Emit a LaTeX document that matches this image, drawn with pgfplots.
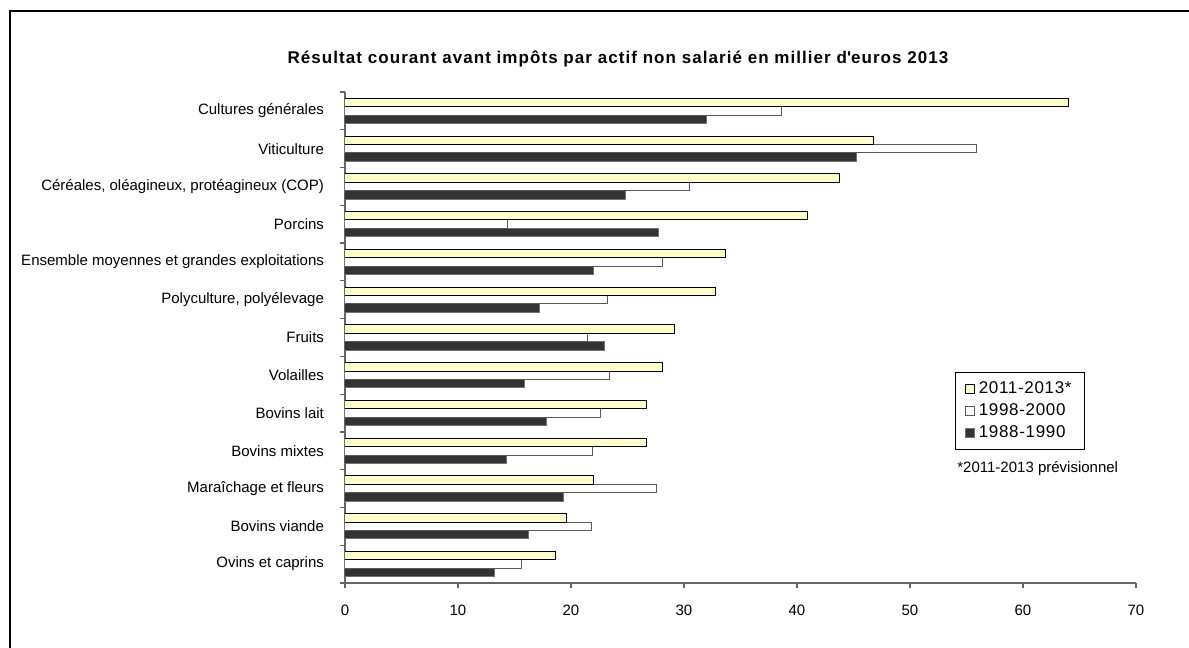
\documentclass[border=0pt]{standalone}
\usepackage{fontspec}
\setmainfont{Liberation Sans}
\usepackage{pgfplots}
\pgfplotsset{compat=1.18}
\definecolor{paleyellow}{HTML}{FFFFCC}
\definecolor{darkbar}{HTML}{333333}

\begin{document}
\begin{tikzpicture}
% page area: 1189 x 648 units of 0.5pt
\useasboundingbox (0,0) rectangle (594.5pt,324pt);
\begin{axis}[
  at={(172.5pt,32.5pt)}, anchor=south west,
  width=395.5pt, height=245.5pt, scale only axis,
  xmin=0, xmax=70, ymin=-0.5, ymax=12.5,
  xbar=0pt, bar width=4.2pt,
  axis x line*=bottom, axis y line*=left,
  x axis line style={-}, y axis line style={-},
  axis line style={black!60, line width=0.6pt},
  xtick={0,10,...,70},
  % category boundaries carry the tick marks, centres carry the names
  ytick={-0.5,0.5,...,12.5},
  yticklabels={{},{},{},{},{},{},{},{},{},{},{},{},{},{}},
  extra y ticks={0,1,...,12},
  extra y tick labels={
    {Ovins et caprins},
    {Bovins viande},
    {Maraîchage et fleurs},
    {Bovins mixtes},
    {Bovins lait},
    {Volailles},
    {Fruits},
    {Polyculture, polyélevage},
    {Ensemble moyennes et grandes exploitations},
    {Porcins},
    {Céréales, oléagineux, protéagineux (COP)},
    {Viticulture},
    {Cultures générales}},
  extra y tick style={tick style={draw=none}},
  tick align=outside,
  major tick length=2.5pt,
  tick style={black!60, line width=0.6pt},
  /pgf/number format/assume math mode=true,
  ticklabel style={font=\fontsize{7.5}{9}\selectfont},
  xticklabel style={yshift=-5pt},
  yticklabel style={xshift=-4.5pt},
  legend style={at={(0.7715,0.2709)}, anchor=south west, draw=black,
    line width=0.6pt, font=\fontsize{8.5}{10}\selectfont\addfontfeature{LetterSpace=4},
    inner xsep=4.5pt, inner ysep=2.5pt, row sep=-0.5pt, cells={anchor=west}},
  legend cell align=left, reverse legend,
  legend image code/.code={\draw[#1, line width=0.5pt] (3pt,-2.25pt) rectangle (7.5pt,2.25pt);},
]
% 1988-1990
\addplot[fill=darkbar, draw=black!55, line width=0.5pt] coordinates {
  (13.2,0) (16.2,1) (19.3,2) (14.3,3) (17.8,4) (15.9,5) (23.0,6)
  (17.2,7) (22.0,8) (27.7,9) (24.8,10) (45.3,11) (32.0,12)};
\addlegendentry{1988-1990}
% 1998-2000
\addplot[fill=white, draw=black!65, line width=0.5pt] coordinates {
  (15.6,0) (21.8,1) (27.6,2) (21.9,3) (22.6,4) (23.4,5) (21.5,6)
  (23.2,7) (28.1,8) (14.4,9) (30.5,10) (55.9,11) (38.6,12)};
\addlegendentry{1998-2000}
% 2011-2013 (provisional)
\addplot[fill=paleyellow, draw=black, line width=0.5pt] coordinates {
  (18.6,0) (19.6,1) (22.0,2) (26.7,3) (26.7,4) (28.1,5) (29.2,6)
  (32.8,7) (33.7,8) (40.9,9) (43.8,10) (46.8,11) (64.0,12)};
\addlegendentry{2011-2013*}
\end{axis}
% outer frame
\draw[line width=0.75pt] (5pt,-10pt) rectangle (605pt,318.5pt);
\node[font=\bfseries\fontsize{8.5}{10}\selectfont\addfontfeature{LetterSpace=6.2}] at (309pt,294.5pt)
  {Résultat courant avant impôts par actif non salarié en millier d\textquotesingle euros 2013};
\node[anchor=west, inner sep=0pt, font=\fontsize{7.5}{9}\selectfont] at (478.5pt,89.5pt)
  {*2011-2013 prévisionnel};
\end{tikzpicture}
\end{document}
